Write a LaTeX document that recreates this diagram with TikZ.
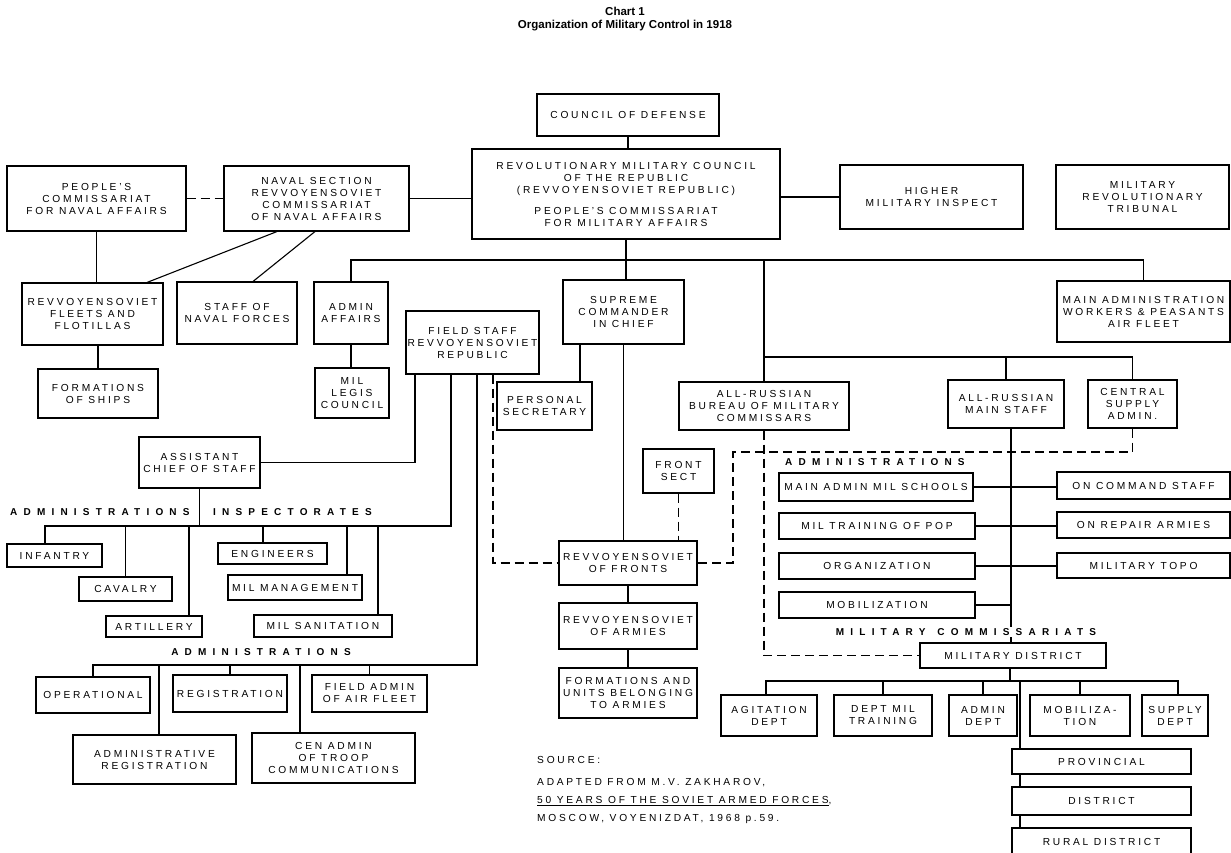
\documentclass[tikz,border=0pt]{standalone}
\usepackage{fontspec}
\setmainfont{Liberation Sans}[LetterSpace=27]
\newfontfamily\labfont{Liberation Sans}[LetterSpace=62]
\newfontfamily\titlefont{Liberation Sans}
\tikzset{
  box/.style={draw, line width=1.1pt, inner sep=0pt, align=center, font=\fontsize{10.2}{12}\selectfont},
  lab/.style={font=\labfont\bfseries\fontsize{10}{12}\selectfont, inner sep=0pt},
  src/.style={font=\fontsize{10.2}{12}\selectfont, inner sep=0pt, anchor=west},
  dsh/.style={dash pattern=on 9pt off 5pt},
  conn/.style={line width=1.1pt}
}
\newcommand\bx[6]{\node[box, minimum width={(#4-#2)*1pt}, minimum height={(#5-#3)*1pt}] (#1) at ({(#2+#4)/2},{(#3+#5)/2}) {#6};}
\begin{document}
\begin{tikzpicture}[x=1pt,y=-1pt]
\useasboundingbox (0,0) rectangle (1231,852);
% title
\node[font=\titlefont\bfseries\fontsize{11.5}{13}\selectfont] (t1) at (625,11) {Chart 1};
\node[font=\titlefont\bfseries\fontsize{11.5}{13}\selectfont] (t2) at (625,26) {Organization of Military Control in 1918};
% top
\bx{cod}{537}{94}{719}{136}{COUNCIL OF DEFENSE}
\bx{rmc}{472}{149}{780}{239}{REVOLUTIONARY MILITARY COUNCIL\\OF THE REPUBLIC\\(REVVOYENSOVIET REPUBLIC)\\[9pt]PEOPLE'S COMMISSARIAT\\FOR MILITARY AFFAIRS}
\bx{pcna}{7}{166}{186}{231}{PEOPLE'S\\COMMISSARIAT\\FOR NAVAL AFFAIRS}
\bx{nav}{224}{166}{409}{231}{NAVAL SECTION\\REVVOYENSOVIET\\COMMISSARIAT\\OF NAVAL AFFAIRS}
\bx{him}{840}{165}{1023}{229}{HIGHER\\MILITARY INSPECT}
\bx{mrt}{1056}{165}{1229}{229}{MILITARY\\REVOLUTIONARY\\TRIBUNAL}
% second row
\bx{flt}{22}{283}{163}{345}{REVVOYENSOVIET\\FLEETS AND\\FLOTILLAS}
\bx{snf}{177}{282}{297}{344}{STAFF OF\\NAVAL FORCES}
\bx{aaf}{314}{282}{388}{344}{ADMIN\\AFFAIRS}
\bx{mlc}{315}{368}{389}{418}{MIL\\LEGIS\\COUNCIL}
\bx{fos}{38}{369}{158}{418}{FORMATIONS\\OF SHIPS}
\bx{sci}{563}{280}{684}{344}{SUPREME\\COMMANDER\\IN CHIEF}
\bx{fs}{406}{311}{539}{374}{FIELD STAFF\\REVVOYENSOVIET\\REPUBLIC}
\bx{ps}{497}{382}{592}{430}{PERSONAL\\SECRETARY}
\bx{mawp}{1057}{281}{1230}{342}{MAIN ADMINISTRATION\\WORKERS \& PEASANTS\\AIR FLEET}
\bx{bmc}{679}{382}{849}{430}{ALL-RUSSIAN\\BUREAU OF MILITARY\\COMMISSARS}
\bx{ams}{948}{380}{1064}{428}{ALL-RUSSIAN\\MAIN STAFF}
\bx{csa}{1088}{380}{1177}{428}{CENTRAL\\SUPPLY\\ADMIN.}
% left lower
\bx{acs}{139}{437}{260}{488}{ASSISTANT\\CHIEF OF STAFF}
\bx{inf}{7}{544}{102}{567}{INFANTRY}
\bx{cav}{79}{577}{172}{601}{CAVALRY}
\bx{art}{106}{616}{202}{637}{ARTILLERY}
\bx{eng}{218}{543}{327}{564}{ENGINEERS}
\bx{mm}{228}{575}{362}{600}{MIL MANAGEMENT}
\bx{ms}{254}{615}{392}{637}{MIL SANITATION}
\bx{op}{36}{677}{150}{713}{OPERATIONAL}
\bx{reg}{173}{675}{287}{712}{REGISTRATION}
\bx{faaf}{312}{675}{427}{712}{FIELD ADMIN\\OF AIR FLEET}
\bx{ar}{73}{735}{236}{784}{ADMINISTRATIVE\\REGISTRATION}
\bx{ca}{252}{733}{415}{783}{CEN ADMIN\\OF TROOP\\COMMUNICATIONS}
% centre column
\bx{fsect}{643}{449}{714}{493}{FRONT\\SECT}
\bx{fr}{559}{541}{697}{585}{REVVOYENSOVIET\\OF FRONTS}
\bx{arm}{559}{603}{697}{649}{REVVOYENSOVIET\\OF ARMIES}
\bx{fu}{559}{668}{697}{718}{FORMATIONS AND\\UNITS BELONGING\\TO ARMIES}
% right administrations
\bx{mams}{779}{473}{973}{501}{MAIN ADMIN MIL SCHOOLS}
\bx{mtp}{779}{513}{975}{539}{MIL TRAINING OF POP}
\bx{org}{779}{553}{975}{579}{ORGANIZATION}
\bx{mob}{779}{592}{975}{618}{MOBILIZATION}
\bx{ocs}{1057}{472}{1230}{499}{ON COMMAND STAFF}
\bx{ora}{1057}{512}{1230}{538}{ON REPAIR ARMIES}
\bx{mt}{1057}{553}{1230}{578}{MILITARY TOPO}
\bx{md}{920}{643}{1106}{668}{MILITARY DISTRICT}
\bx{ag}{721}{695}{817}{736}{AGITATION\\DEPT}
\bx{dmt}{834}{695}{932}{736}{DEPT MIL\\TRAINING}
\bx{ad}{949}{695}{1017}{736}{ADMIN\\DEPT}
\bx{mobt}{1030}{695}{1130}{736}{MOBILIZA-\\TION}
\bx{sd}{1142}{695}{1208}{736}{SUPPLY\\DEPT}
\bx{prov}{1012}{749}{1191}{774}{PROVINCIAL}
\bx{dist}{1012}{787}{1191}{815}{DISTRICT}
\bx{rd}{1012}{828}{1191}{856}{RURAL DISTRICT}
% bus coordinates
\coordinate (bus) at (0,260);
\coordinate (bus2) at (0,357);
\coordinate (ibus) at (0,526);
\coordinate (abus) at (0,665);
\coordinate (dbus) at (0,681);
\coordinate (dtop) at (733,452);
\coordinate (spine) at ([xshift=5pt]ams.south);
% connectors top
\draw[conn] (cod.south) -- (cod.south |- rmc.north);
\draw[conn] (nav.east) -- (nav.east -| rmc.west);
\draw[conn] (rmc.east |- him.west) -- (him.west);
\draw[conn, dsh] (pcna.east) -- (nav.west);
\draw[conn] (pcna.south) -- (pcna.south |- flt.north);
\draw[conn] ([xshift=-39.5pt]nav.south) -- ([xshift=54.5pt]flt.north);
\draw[conn] ([xshift=-1.5pt]nav.south) -- ([xshift=16pt]snf.north);
\draw[conn] (fos.north |- flt.south) -- (fos.north);
\draw[conn] (rmc.south) -- (rmc.south |- sci.north);
\draw[conn] (aaf.north) |- (mawp.north |- bus) -- (mawp.north);
\draw[conn] (bmc.north |- bus) -- (bmc.north);
\draw[conn] (bmc.north |- bus2) -| (csa.north);
\draw[conn] (ams.north |- bus2) -- (ams.north);
\draw[conn] (aaf.south) -- (aaf.south |- mlc.north);
\draw[conn] ([xshift=-43.5pt]sci.south) -- ([xshift=-43.5pt]sci.south |- ps.north);
\draw[conn] (sci.south) -- (sci.south |- fr.north);
% field staff
\draw[conn] ([xshift=-57.5pt]fs.south) |- (acs.east);
\draw[conn] ([xshift=-21.5pt]fs.south) |- ([xshift=-9.5pt]inf.north |- ibus) -- ([xshift=-9.5pt]inf.north);
\draw[conn] (acs.south) -- (acs.south |- ibus);
\draw[conn] (cav.north |- ibus) -- (cav.north);
\draw[conn] ([xshift=35pt]art.north |- ibus) -- ([xshift=35pt]art.north);
\draw[conn] ([xshift=-9.5pt]eng.north |- ibus) -- ([xshift=-9.5pt]eng.north);
\draw[conn] ([xshift=52pt]mm.north |- ibus) -- ([xshift=52pt]mm.north);
\draw[conn] ([xshift=55pt]ms.north |- ibus) -- ([xshift=55pt]ms.north);
\draw[conn] ([xshift=4.5pt]fs.south) |- (op.north |- abus) -- (op.north);
\draw[conn] (reg.north |- abus) -- (reg.north);
\draw[conn] (faaf.north |- abus) -- (faaf.north);
\draw[conn] ([xshift=4.5pt]ar.north |- abus) -- ([xshift=4.5pt]ar.north);
\draw[conn] ([xshift=-33.5pt]ca.north |- abus) -- ([xshift=-33.5pt]ca.north);
% dashed
\draw[conn, dsh] ([xshift=20.5pt]fs.south) |- (fr.west);
\draw[conn, dsh] (fsect.south) -- (fsect.south |- fr.north);
\draw[conn, dsh] (csa.south) |- (dtop) |- (fr.east);
\draw[conn, dsh] (bmc.south) |- (md.west);
% centre column
\draw[conn] (fr.south) -- (arm.north);
\draw[conn] (arm.south) -- (fu.north);
% right administrations
\draw[conn] (spine) -- (spine |- md.north);
\draw[conn] (mams.east) -- (mams.east -| ocs.west);
\draw[conn] (mtp.east) -- (mtp.east -| ora.west);
\draw[conn] (org.east) -- (org.east -| mt.west);
\draw[conn] (mob.east) -- (mob.east -| spine);
\draw[conn] ([xshift=-3pt]md.south) -- ([xshift=-3pt]md.south |- dbus);
\draw[conn] ([xshift=-3pt]ag.north) |- ([xshift=3pt]sd.north |- dbus) -- ([xshift=3pt]sd.north);
\draw[conn] (dmt.north |- dbus) -- (dmt.north);
\draw[conn] (ad.north |- dbus) -- (ad.north);
\draw[conn] (mobt.north |- dbus) -- (mobt.north);
\draw[conn] ([xshift=-81.5pt]prov.north |- dbus) -- ([xshift=-81.5pt]prov.north);
\draw[conn] ([xshift=-81.5pt]prov.south) -- ([xshift=-81.5pt]dist.north);
\draw[conn] ([xshift=-81.5pt]dist.south) -- ([xshift=-81.5pt]rd.north);
% labels
\node[lab, anchor=west] (l1) at (10,512) {ADMINISTRATIONS};
\node[lab, anchor=west] (l2) at (213,512) {INSPECTORATES};
\node[lab] (l3) at (261,652) {ADMINISTRATIONS};
\node[lab, anchor=west] (l4) at (785,462) {ADMINISTRATIONS};
\node[lab, fill=white, inner sep=1pt] (l5) at (966,632) {MILITARY\hspace{12pt}COMMISSARIATS};
% source
\node[src] (s1) at (537,760) {SOURCE:};
\node[src] (s2) at (537,783) {ADAPTED FROM M.V. ZAKHAROV,};
\node[src] (s3) at (537,801) {\underline{50 YEARS OF THE SOVIET ARMED FORCES},};
\node[src] (s4) at (537,819) {MOSCOW, VOYENIZDAT, 1968 p.59.};
\end{tikzpicture}
\end{document}
